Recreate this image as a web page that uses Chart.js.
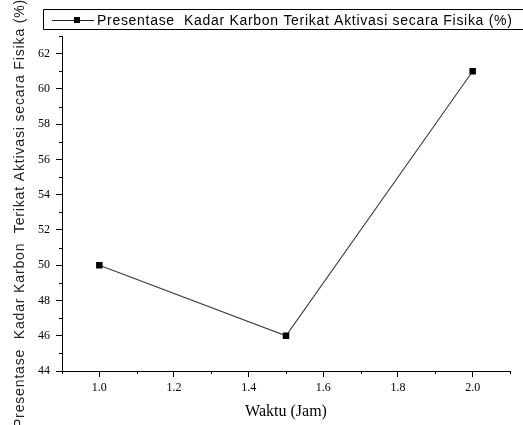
<!DOCTYPE html>
<html>
<head>
<meta charset="utf-8">
<script src="https://cdn.jsdelivr.net/npm/chart.js@4"></script>
<style>
  html, body { margin: 0; padding: 0; background: #fff; }
  canvas { display: block; }
</style>
</head>
<body>
<canvas id="karbon" width="523" height="425"></canvas>
<script>
// waktu aktivasi (jam) vs kadar karbon terikat (%)
const waktu = [1.0, 1.5, 2.0];
const kadarKarbon = [50, 46, 61];

const xTicks = [1.0, 1.2, 1.4, 1.6, 1.8, 2.0];
const xMinor = [0.9, 1.1, 1.3, 1.5, 1.7, 1.9, 2.1];
const yTicks = [44, 46, 48, 50, 52, 54, 56, 58, 60, 62];
const yMinor = [45, 47, 49, 51, 53, 55, 57, 59, 61, 63];

const seriesLabel = 'Presentase  Kadar Karbon Terikat Aktivasi secara Fisika (%)';
const yTitle = 'Presentase  Kadar Karbon  Terikat Aktivasi secara Fisika (%)';

// small ticks between the labelled ones, legend box and rotated y title
const extras = {
  id: 'extras',
  afterDraw(chart) {
    const ctx = chart.ctx;
    const xs = chart.scales.x, ys = chart.scales.y;
    const area = chart.chartArea;
    ctx.save();
    ctx.strokeStyle = '#000';
    ctx.lineWidth = 1;
    ctx.beginPath();
    xMinor.forEach(v => {
      const px = Math.round(xs.getPixelForValue(v)) + 0.5;
      ctx.moveTo(px, area.bottom);
      ctx.lineTo(px, area.bottom + 3);
    });
    yMinor.forEach(v => {
      const py = Math.round(ys.getPixelForValue(v)) + 0.5;
      ctx.moveTo(area.left, py);
      ctx.lineTo(area.left - 3, py);
    });
    ctx.stroke();

    // legend box, open on the right where it runs off the canvas
    ctx.beginPath();
    ctx.moveTo(chart.width, 9.5);
    ctx.lineTo(43.5, 9.5);
    ctx.lineTo(43.5, 29.5);
    ctx.lineTo(chart.width, 29.5);
    ctx.stroke();
    ctx.strokeStyle = '#222';
    ctx.beginPath();
    ctx.moveTo(52, 20.5);
    ctx.lineTo(94, 20.5);
    ctx.stroke();
    ctx.fillStyle = '#000';
    ctx.fillRect(74, 17, 6, 6);
    ctx.font = '14px "Liberation Sans", Arial, sans-serif';
    ctx.letterSpacing = '0.7px';
    ctx.textBaseline = 'middle';
    ctx.fillText(seriesLabel, 97, 21);

    // y axis title
    ctx.letterSpacing = '0.85px';
    ctx.translate(24, (area.top + area.bottom) / 2 + 10);
    ctx.rotate(-Math.PI / 2);
    ctx.textAlign = 'center';
    ctx.textBaseline = 'alphabetic';
    ctx.fillStyle = '#222';
    ctx.fillText(yTitle, 0, 0);
    ctx.restore();
  }
};

new Chart(document.getElementById('karbon'), {
  type: 'line',
  data: {
    datasets: [{
      label: seriesLabel,
      data: waktu.map((w, i) => ({ x: w, y: kadarKarbon[i] })),
      borderColor: '#3a3a3a',
      borderWidth: 1.1,
      pointStyle: 'rect',
      pointRadius: 4.6,
      pointBorderWidth: 0,
      pointBackgroundColor: '#000',
      tension: 0
    }]
  },
  options: {
    responsive: false,
    animation: false,
    layout: { padding: { top: 36, right: 13, left: 0, bottom: 0 } },
    plugins: {
      legend: { display: false },
      tooltip: { enabled: false }
    },
    scales: {
      x: {
        type: 'linear',
        min: 0.9,
        max: 2.1,
        afterBuildTicks: s => { s.ticks = xTicks.map(v => ({ value: v })); },
        afterFit: s => { s.height = 54; },
        border: { color: '#000', width: 1 },
        grid: { drawOnChartArea: false, drawTicks: true, tickLength: 6, tickColor: '#000' },
        ticks: {
          color: '#000',
          padding: 4,
          maxRotation: 0,
          font: { family: '"Liberation Serif", serif', size: 12 },
          callback: v => Number(v).toFixed(1)
        },
        title: {
          display: true,
          text: 'Waktu (Jam)',
          color: '#000',
          padding: { top: 4, bottom: 4 },
          font: { family: '"Liberation Serif", serif', size: 16 }
        }
      },
      y: {
        type: 'linear',
        min: 44,
        max: 63,
        afterBuildTicks: s => { s.ticks = yTicks.map(v => ({ value: v })); },
        afterFit: s => { s.width = 62; },
        border: { color: '#000', width: 1 },
        grid: { drawOnChartArea: false, drawTicks: true, tickLength: 6, tickColor: '#000' },
        ticks: {
          color: '#000',
          padding: 6,
          font: { family: '"Liberation Serif", serif', size: 12 }
        }
      }
    }
  },
  plugins: [extras]
});
</script>
</body>
</html>
